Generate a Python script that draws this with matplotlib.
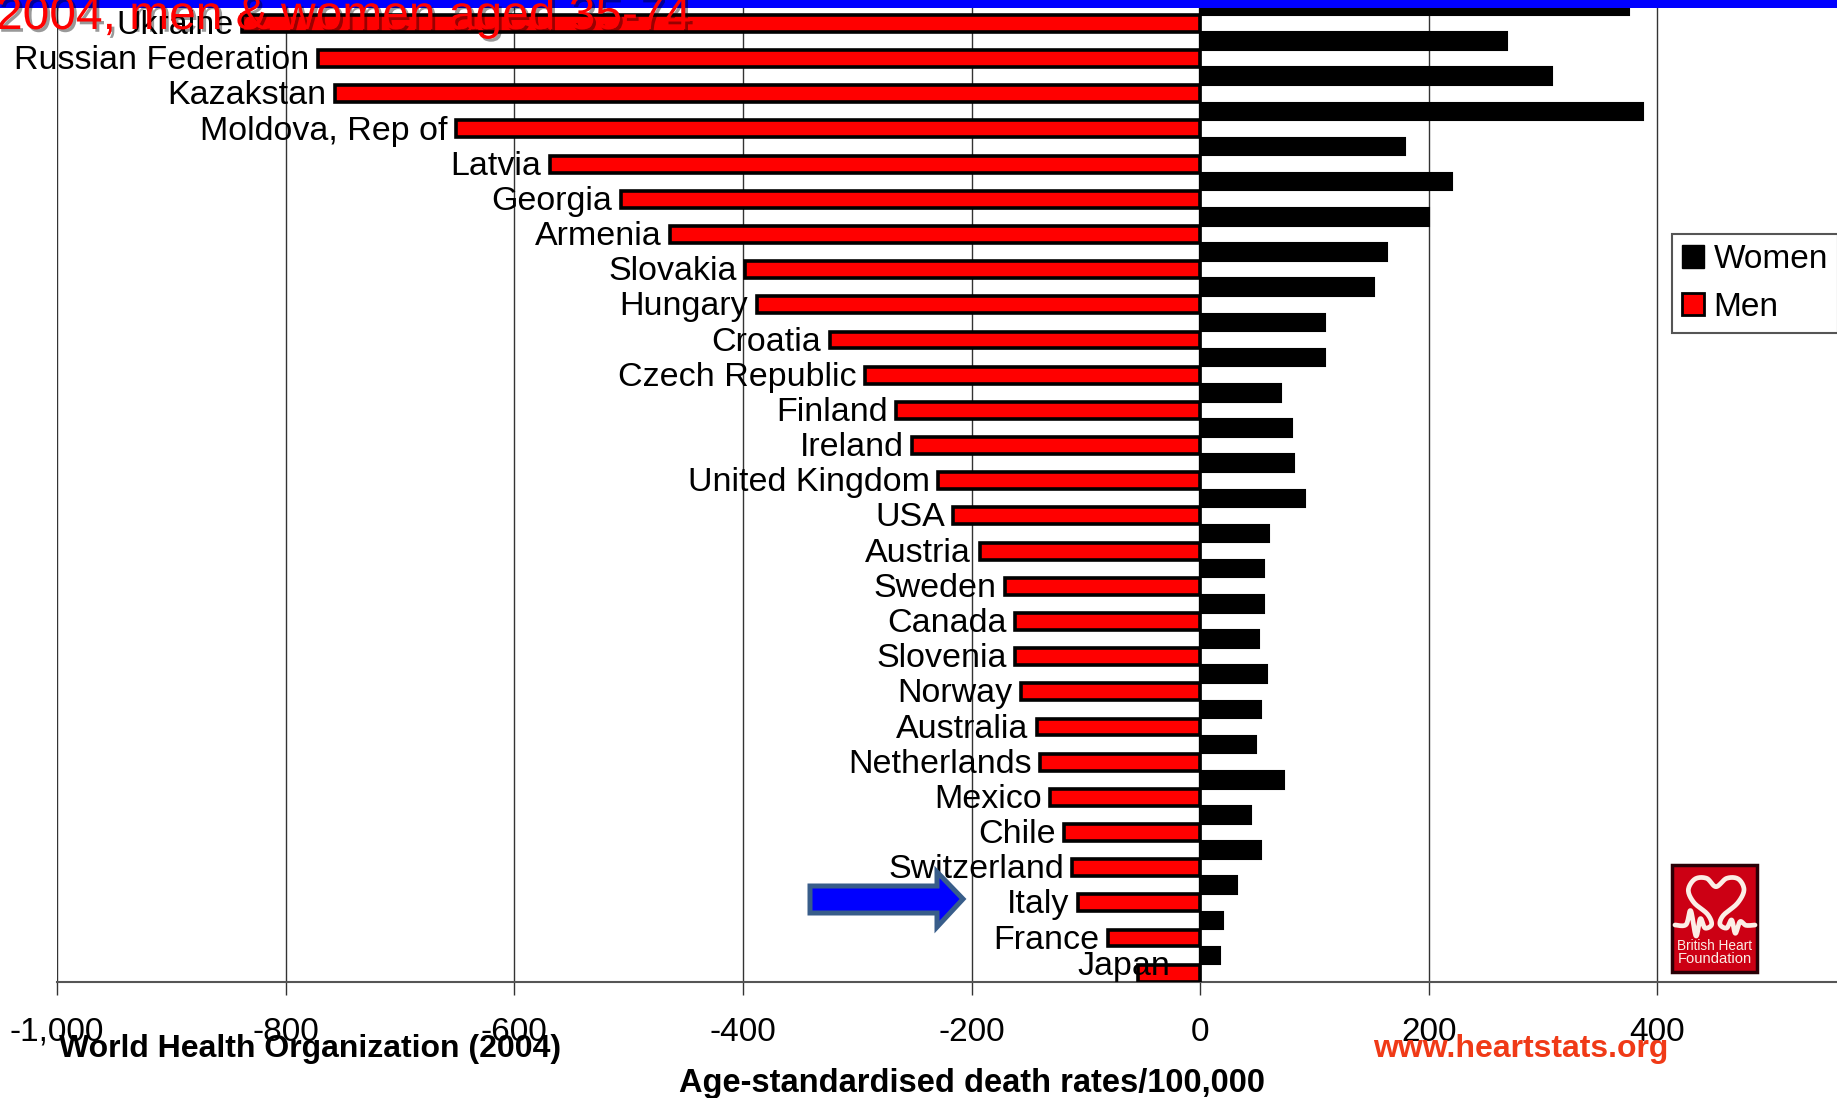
import numpy as np
import matplotlib
matplotlib.use("Agg")
import matplotlib.pyplot as plt
import matplotlib.patheffects as pe
from matplotlib.patches import Patch, Polygon, Rectangle
from matplotlib.lines import Line2D

countries = ["Ukraine", "Russian Federation", "Kazakstan", "Moldova, Rep of", "Latvia",
             "Georgia", "Armenia", "Slovakia", "Hungary", "Croatia", "Czech Republic",
             "Finland", "Ireland", "United Kingdom", "USA", "Austria", "Sweden", "Canada",
             "Slovenia", "Norway", "Australia", "Netherlands", "Mexico", "Chile",
             "Switzerland", "Italy", "France", "Japan"]
men = [-838, -772, -757, -651, -569, -507, -464, -398, -388, -324, -293, -266, -252, -229,
       -216, -193, -171, -162, -162, -157, -143, -140, -131, -119, -112, -107, -81, -54]
women = [375, 268, 308, 387, 179, 220, 200, 163, 152, 109, 109, 71, 80, 82,
         92, 60, 56, 56, 51, 58, 53, 49, 73, 44, 53, 32, 20, 17]
x_ticks = [-1000, -800, -600, -400, -200, 0, 200, 400]

W, H = 1837, 1098
FONT = "Liberation Sans"
plt.rcParams["font.family"] = [FONT, "DejaVu Sans"]

fig = plt.figure(figsize=(W / 100, H / 100), dpi=100, facecolor="white")


def fx(px):
    return px / W


def fy(py):
    return 1 - py / H


# The plot area runs past the right and top edges of the slide.
ax = fig.add_axes([fx(57), fy(982), fx(1780), (982 + 3) / H])
ypos = np.arange(len(countries))
ax.set_xlim(-1000, 1000 * 1780 / 1143.2 - 1000)
ax.set_ylim(len(countries) - 0.5, -0.5)

ax.barh(ypos - 0.25, women, height=0.5, color="black", edgecolor="black", linewidth=1.5, zorder=3)
ax.barh(ypos + 0.25, men, height=0.48, color="#ff0000", edgecolor="black", linewidth=2.6, zorder=3)

for name, value, y in zip(countries, men, ypos):
    # Japan's label sits over its own short bar.
    offset = (23, 4.5) if name == "Japan" else (-6, -1.5)
    ax.annotate(name, (value, y + 0.25), xytext=offset, textcoords="offset points",
                ha="right", va="center", fontsize=24.5, color="black", zorder=5,
                annotation_clip=False)

for spine in ("top", "right", "left"):
    ax.spines[spine].set_visible(False)
ax.spines["bottom"].set_color("#555555")
ax.spines["bottom"].set_linewidth(1.5)
ax.set_yticks([])
ax.set_xticks(x_ticks)
ax.set_xticklabels([f"{t:,}" for t in x_ticks], fontsize=24)
ax.tick_params(axis="x", length=9, width=1, color="#333333", pad=16)
ax.xaxis.grid(True, color="#333333", linewidth=1)
ax.set_axisbelow(True)
ax.axvline(0, color="black", linewidth=1.6, zorder=4)

legend = ax.legend(
    handles=[Patch(facecolor="black", edgecolor="black", label="Women"),
             Patch(facecolor="#ff0000", edgecolor="black", linewidth=2, label="Men")],
    loc="upper left", bbox_to_anchor=(fx(1672), fy(234)), bbox_transform=fig.transFigure,
    fontsize=24, frameon=True, fancybox=False, framealpha=1, edgecolor="#555555",
    borderaxespad=0, handlelength=0.65, handleheight=0.66, handletextpad=0.3,
    labelspacing=0.5, borderpad=0.3)
legend.get_frame().set_linewidth(1.5)
legend.set_zorder(6)

# Header strip and the slide title cut off by the top edge.
fig.add_artist(Rectangle((0, fy(8)), 1, 8 / H, transform=fig.transFigure,
                         facecolor="#0000ff", edgecolor="none", zorder=8))
fig.text(fx(-4), fy(29), "2004, men & women aged 35-74", fontsize=34.5, color="#ff0000",
         ha="left", va="baseline", zorder=9,
         path_effects=[pe.withSimplePatchShadow(offset=(2, -2), shadow_rgbFace="black", alpha=0.4)])

# Arrow pointing at Italy.
arrow_px = [(810, 886), (937, 886), (937, 872), (963, 899), (937, 927), (937, 913), (810, 913)]
fig.add_artist(Polygon([(fx(a), fy(b)) for a, b in arrow_px], closed=True,
                       transform=fig.transFigure, facecolor="#0000ff", edgecolor="#385d8a",
                       linewidth=3.6, zorder=7))

# Footer texts.
fig.text(fx(59), fy(1057), "World Health Organization (2004)", fontsize=23, fontweight="bold",
         color="black", ha="left", va="baseline", zorder=9)
fig.text(fx(1373), fy(1057), "www.heartstats.org", fontsize=23, fontweight="bold",
         color="#f03a17", ha="left", va="baseline", zorder=9)
fig.text(fx(972), fy(1092), "Age-standardised death rates/100,000", fontsize=23.5, fontweight="bold",
         color="black", ha="center", va="baseline", zorder=9)

# British Heart Foundation badge.
fig.add_artist(Rectangle((fx(1672), fy(972)), 85 / W, 107 / H, transform=fig.transFigure,
                         facecolor="#cc0014", edgecolor="#2a0006", linewidth=2.5, zorder=7))


def smooth(points, steps=12):
    # Catmull-Rom curve through the outline points of the heart.
    p = np.array(points, dtype=float)
    p = np.vstack([p[0], p, p[-1]])
    out = []
    for i in range(1, len(p) - 2):
        for t in np.linspace(0, 1, steps, endpoint=False):
            out.append(0.5 * (2 * p[i] + (p[i + 1] - p[i - 1]) * t
                              + (2 * p[i - 1] - 5 * p[i] + 4 * p[i + 1] - p[i + 2]) * t ** 2
                              + (3 * p[i] - p[i - 1] - 3 * p[i + 1] + p[i + 2]) * t ** 3))
    out.append(p[-1])
    return np.array(out)


heart = [(165, 255), (198, 254), (212, 212), (228, 288), (241, 236), (255, 264), (275, 253),
         (262, 222), (222, 188), (205, 150), (225, 117), (260, 115), (288, 140), (320, 115),
         (355, 117), (372, 150), (352, 190), (310, 226), (300, 253), (320, 264), (335, 240),
         (346, 280), (360, 245), (378, 256), (405, 255)]
curve = smooth(heart)
fig.add_artist(Line2D(fx(1620 + curve[:, 0] / 3), fy(840 + curve[:, 1] / 3), transform=fig.transFigure,
                      color="#fbeee6", linewidth=3.4, solid_capstyle="round", zorder=8))
fig.text(fx(1714.5), fy(950), "British Heart", fontsize=9.8, color="#fbeee6",
         ha="center", va="baseline", zorder=8)
fig.text(fx(1714.5), fy(963), "Foundation", fontsize=10.6, color="#fbeee6",
         ha="center", va="baseline", zorder=8)

fig.savefig("out.png", dpi=100)
